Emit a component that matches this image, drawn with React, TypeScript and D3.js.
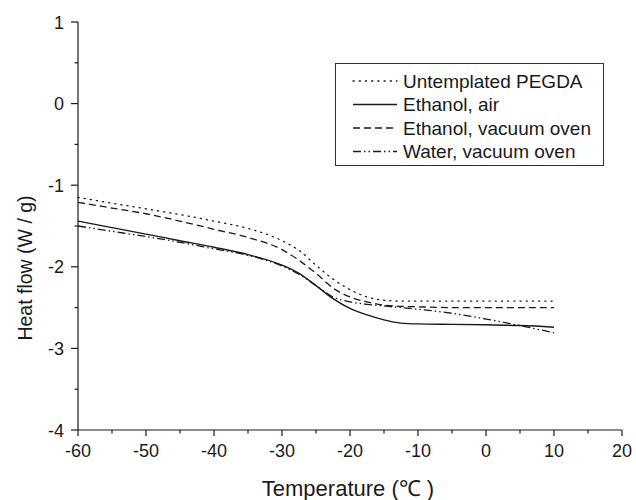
import React from "react";
import * as d3 from "d3";

const temps = [-60, -55, -50, -45, -40, -35, -30, -27.5, -25, -22.5, -20, -17.5, -15, -12.5, -10, -5, 0, 5, 10];
const untemplated = [-1.15, -1.22, -1.29, -1.36, -1.44, -1.53, -1.68, -1.80, -1.98, -2.15, -2.28, -2.37, -2.41, -2.42, -2.42, -2.42, -2.42, -2.42, -2.42];
const ethanolAir = [-1.44, -1.52, -1.60, -1.68, -1.76, -1.85, -1.98, -2.08, -2.23, -2.39, -2.51, -2.59, -2.65, -2.69, -2.70, -2.705, -2.71, -2.72, -2.74];
const ethanolVac = [-1.21, -1.28, -1.35, -1.44, -1.54, -1.64, -1.79, -1.92, -2.08, -2.26, -2.37, -2.43, -2.47, -2.485, -2.49, -2.50, -2.50, -2.50, -2.50];
const waterVac = [-1.50, -1.565, -1.63, -1.70, -1.78, -1.86, -1.99, -2.09, -2.23, -2.37, -2.43, -2.46, -2.48, -2.50, -2.52, -2.57, -2.64, -2.72, -2.81];

const seriesNames = ["Untemplated PEGDA", "Ethanol, air", "Ethanol, vacuum oven", "Water, vacuum oven"];
const seriesValues = [untemplated, ethanolAir, ethanolVac, waterVac];
const dashes = ["1.2,5", "none", "7,4", "8,3,1.5,3,1.5,3"];

const xMajor = [-60, -50, -40, -30, -20, -10, 0, 10, 20];
const xMinor = [-55, -45, -35, -25, -15, -5, 5, 15];
const yMajor = [-4, -3, -2, -1, 0, 1];
const yMinor = [-3.5, -2.5, -1.5, -0.5, 0.5];

export default function App() {
  const x = d3.scaleLinear().domain([-60, 20]).range([78, 622]);
  const y = d3.scaleLinear().domain([-4, 1]).range([430, 22]);
  const line = d3
    .line<number>()
    .x((_, i) => x(temps[i]))
    .y((d) => y(d))
    .curve(d3.curveMonotoneX);
  const font = "'Liberation Sans', Arial, sans-serif";
  const ink = "#1a1a1a";

  return (
    <svg
      width={636}
      height={500}
      style={{ position: "absolute", left: 0, top: 0, background: "#fff" }}
      fontFamily={font}
    >
      <rect x={0} y={0} width={636} height={500} fill="#fff" />
      {seriesValues.map((vals, i) => (
        <path
          key={i}
          d={line(vals) || ""}
          fill="none"
          stroke={ink}
          strokeWidth={i === 1 ? 1.4 : 1.3}
          strokeDasharray={dashes[i] === "none" ? undefined : dashes[i]}
          strokeLinecap={i === 0 ? "round" : "butt"}
        />
      ))}
      {/* axes */}
      <line x1={x(-60)} x2={x(20)} y1={430} y2={430} stroke={ink} strokeWidth={1.2} />
      <line x1={78} x2={78} y1={y(1)} y2={y(-4)} stroke={ink} strokeWidth={1.2} />
      {xMajor.map((t) => (
        <g key={"xm" + t}>
          <line x1={x(t)} x2={x(t)} y1={430} y2={436} stroke={ink} strokeWidth={1.2} />
          <text x={x(t)} y={457} textAnchor="middle" fontSize={18} fill={ink}>
            {t}
          </text>
        </g>
      ))}
      {xMinor.map((t) => (
        <line key={"xn" + t} x1={x(t)} x2={x(t)} y1={430} y2={433.5} stroke={ink} strokeWidth={1.2} />
      ))}
      {yMajor.map((v) => (
        <g key={"ym" + v}>
          <line x1={71} x2={78} y1={y(v)} y2={y(v)} stroke={ink} strokeWidth={1.2} />
          <text x={64} y={y(v) + 6.5} textAnchor="end" fontSize={18} fill={ink}>
            {v}
          </text>
        </g>
      ))}
      {yMinor.map((v) => (
        <line key={"yn" + v} x1={74.5} x2={78} y1={y(v)} y2={y(v)} stroke={ink} strokeWidth={1.2} />
      ))}
      <text
        transform={`translate(32,${268}) rotate(-90)`}
        textAnchor="middle"
        fontSize={19.5}
        fill={ink}
      >
        Heat flow (W / g)
      </text>
      <text x={348} y={496} textAnchor="middle" fontSize={22} fill={ink}>
        Temperature (℃ )
      </text>
      {/* legend */}
      <rect x={335.5} y={63.5} width={268} height={102} fill="#fff" stroke="#333" strokeWidth={1} />
      {seriesNames.map((name, i) => {
        const cy = 81 + i * 23.5;
        return (
          <g key={name}>
            <line
              x1={353}
              x2={397}
              y1={cy}
              y2={cy}
              stroke={ink}
              strokeWidth={1.3}
              strokeDasharray={dashes[i] === "none" ? undefined : dashes[i]}
              strokeLinecap={i === 0 ? "round" : "butt"}
            />
            <text x={403} y={cy + 6.5} fontSize={19} fill={ink}>
              {name}
            </text>
          </g>
        );
      })}
    </svg>
  );
}
